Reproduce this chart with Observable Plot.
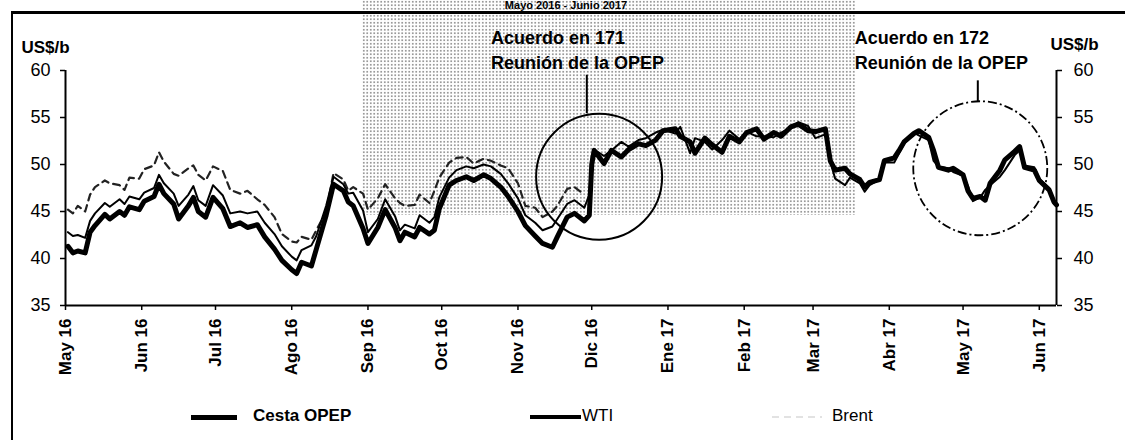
<!DOCTYPE html>
<html>
<head>
<meta charset="utf-8">
<script src="https://cdn.jsdelivr.net/npm/d3@7"></script>
<script src="https://cdn.jsdelivr.net/npm/@observablehq/plot@0.6"></script>
<style>
html, body { margin: 0; padding: 0; background: #fff; }
#wrap { position: relative; width: 1125px; height: 440px; overflow: hidden; font-family: "Liberation Sans", Arial, sans-serif; color: #000; background: #fff; }
#halftone { position: absolute; left: 362px; top: 0; width: 493px; height: 215px;
  background-image: radial-gradient(circle, #9a9a9a 0.7px, transparent 1.1px); background-size: 3.5px 3.5px; }
#frame { position: absolute; left: 11px; top: 11px; width: 1200px; height: 500px; border-left: 2px solid #000; border-top: 3px solid #000; }
#title { position: absolute; left: 0; width: 1132px; top: 0px; height: 11px; line-height: 11px; text-align: center; font-weight: bold; font-size: 11px; }
#chart { position: absolute; left: 0; top: 0; }
#legend .lab { position: absolute; top: 405px; font-size: 17px; line-height: 22px; white-space: nowrap; }
#legend .sw { position: absolute; }
svg [aria-label="x-axis tick label"] text { font-weight: bold; }
</style>
</head>
<body>
<div id="wrap">
  <div id="halftone"></div>
  <div id="title">Mayo 2016 - Junio 2017</div>
  <div id="frame"></div>
  <div id="chart"></div>
  <div id="legend"></div>
</div>
<script>
// ---- data ----
const dates = [
  "2016-05-02","2016-05-04","2016-05-06","2016-05-09","2016-05-11","2016-05-13","2016-05-17","2016-05-19","2016-05-23","2016-05-25",
  "2016-05-27","2016-05-31","2016-06-02","2016-06-06","2016-06-08","2016-06-10","2016-06-14","2016-06-16","2016-06-20","2016-06-22",
  "2016-06-24","2016-06-27","2016-06-30","2016-07-04","2016-07-07","2016-07-11","2016-07-14","2016-07-18","2016-07-21","2016-07-25",
  "2016-07-28","2016-08-01","2016-08-03","2016-08-05","2016-08-09","2016-08-11","2016-08-15","2016-08-18","2016-08-22","2016-08-24",
  "2016-08-26","2016-08-30","2016-09-01","2016-09-05","2016-09-08","2016-09-12","2016-09-14","2016-09-16","2016-09-20","2016-09-22",
  "2016-09-26","2016-09-28","2016-09-30","2016-10-04","2016-10-07","2016-10-11","2016-10-14","2016-10-18","2016-10-21","2016-10-25",
  "2016-10-28","2016-11-01","2016-11-04","2016-11-08","2016-11-11","2016-11-15","2016-11-17","2016-11-21","2016-11-24","2016-11-28",
  "2016-11-30","2016-12-01","2016-12-02","2016-12-06","2016-12-09","2016-12-13","2016-12-16","2016-12-20","2016-12-23","2016-12-27",
  "2016-12-30","2017-01-04","2017-01-06","2017-01-10","2017-01-12","2017-01-16","2017-01-19","2017-01-23","2017-01-26","2017-01-30",
  "2017-02-02","2017-02-06","2017-02-09","2017-02-13","2017-02-16","2017-02-20","2017-02-23","2017-02-27","2017-03-02","2017-03-06",
  "2017-03-08","2017-03-10","2017-03-14","2017-03-16","2017-03-20","2017-03-22","2017-03-24","2017-03-28","2017-03-30","2017-04-03",
  "2017-04-05","2017-04-07","2017-04-11","2017-04-13","2017-04-17","2017-04-19","2017-04-21","2017-04-25","2017-04-27","2017-05-01",
  "2017-05-03","2017-05-05","2017-05-08","2017-05-10","2017-05-12","2017-05-16","2017-05-18","2017-05-22","2017-05-24","2017-05-26",
  "2017-05-30","2017-06-01","2017-06-05","2017-06-07","2017-06-08"
];
const cestaOpep = [
  41.3,40.6,40.8,40.6,42.8,43.5,44.7,44.2,45.0,44.6,
  45.5,45.2,46.1,46.6,47.9,46.9,45.8,44.2,45.6,46.5,
  45.0,44.4,46.5,45.3,43.4,43.8,43.3,43.6,42.3,41.0,
  39.8,38.8,38.4,39.6,39.2,41.0,44.6,47.9,47.2,46.0,
  45.6,43.2,41.6,43.3,45.2,43.3,41.9,42.8,42.3,43.3,
  42.6,43.0,45.3,47.8,48.3,48.7,48.3,48.9,48.5,47.6,
  46.6,45.0,43.5,42.4,41.6,41.2,42.3,44.4,44.8,44.0,
  44.6,50.0,51.5,50.1,51.5,50.8,51.6,52.2,52.0,52.6,
  53.6,53.8,53.0,52.4,51.2,52.8,52.1,51.3,53.0,52.4,
  53.4,53.8,52.7,53.4,53.0,54.0,54.3,53.6,53.5,53.8,
  50.4,49.4,49.6,49.0,48.4,47.6,48.1,48.4,50.4,50.7,
  51.5,52.4,53.3,53.6,52.9,51.5,49.7,49.4,49.6,48.9,
  47.2,46.4,46.6,46.2,48.0,49.4,50.5,51.4,51.9,49.7,
  49.4,48.3,47.3,46.0,45.7
];
const wti = [
  42.8,42.4,42.5,42.2,44.0,44.8,45.9,45.5,46.3,45.8,
  46.6,46.3,47.0,47.5,48.9,48.0,46.9,45.6,46.8,47.7,
  46.2,45.6,47.8,46.7,44.8,45.0,44.8,45.0,43.8,42.6,
  41.3,40.2,39.8,40.9,41.4,42.4,45.6,48.7,47.9,46.9,
  47.0,45.1,42.8,44.2,46.3,44.5,43.0,43.6,43.2,44.6,
  43.8,44.4,46.5,48.6,49.4,49.8,49.6,50.0,49.8,49.0,
  48.0,46.4,44.6,43.8,43.0,43.4,44.2,45.8,46.2,45.4,
  46.8,50.9,51.6,50.9,51.5,52.4,51.9,52.6,52.8,53.4,
  53.7,53.3,54.0,51.2,52.8,52.4,51.6,52.6,53.6,52.7,
  53.5,53.0,53.0,52.9,53.4,53.9,54.5,54.1,52.8,53.2,
  50.3,48.5,47.8,48.6,48.0,47.1,47.8,48.4,50.2,50.2,
  51.2,52.2,53.4,53.1,52.6,50.4,49.8,49.6,49.2,48.8,
  47.7,46.1,46.5,47.3,47.8,48.7,49.4,51.0,51.5,49.9,
  49.7,48.5,47.5,45.8,45.6
];
// Brent: only the stretch that can be read in the reference (May - Nov 2016)
const brent = [
  45.2,44.8,45.6,45.0,46.8,47.6,48.3,48.0,47.8,47.3,
  48.6,48.5,49.5,49.9,51.3,50.3,49.0,48.8,49.6,49.9,
  48.9,48.3,49.8,49.3,47.3,46.9,47.2,46.3,45.7,44.4,
  42.6,41.8,41.7,42.3,42.0,43.0,45.0,49.1,48.4,47.2,
  47.6,46.9,45.2,46.4,47.9,46.4,45.9,45.6,45.7,46.8,
  45.9,47.2,48.6,50.2,50.7,50.8,50.1,50.6,50.4,49.9,
  49.6,48.0,45.6,45.4,44.4,45.0,45.6,47.4,47.6,46.8
];
const seriesNames = ["Cesta OPEP", "WTI", "Brent"];

const xDomain = ["2016-05-01", "2017-06-08"];
const yTicks = [35, 40, 45, 50, 55, 60];
const monthTicks = ["2016-05-01","2016-06-01","2016-07-01","2016-08-01","2016-09-01","2016-10-01","2016-11-01",
  "2016-12-01","2017-01-01","2017-02-01","2017-03-01","2017-04-01","2017-05-01","2017-06-01"];
const monthLabels = ["May 16","Jun 16","Jul 16","Ago 16","Sep 16","Oct 16","Nov 16",
  "Dic 16","Ene 17","Feb 17","Mar 17","Abr 17","May 17","Jun 17"];
const unitLabel = "US$/b";

// annotations
const noteDates = ["2016-10-21", "2017-03-18"];
const noteLine1 = ["Acuerdo en 171", "Acuerdo en 172"];
const noteLine2 = ["Reunión de la OPEP", "Reunión de la OPEP"];
const noteY1 = 63.4, noteY2 = 60.75;
const circleDates = ["2016-12-04", "2017-05-08"];
const circleValues = [48.7, 49.6];
const leaderDates = ["2016-11-29", "2017-05-07"];
const leaderTop = [59.5, 58.9];
const leaderBottom = [55.4, 56.7];

// ---- build ----
const P = d3.utcParse("%Y-%m-%d");
const rows = dates.map((d, i) => ({date: P(d), opec: cestaOpep[i], wti: wti[i], brent: brent[i]}));
const brentRows = rows.filter(r => r.brent != null);
const tickDates = monthTicks.map(P);
const tickMap = new Map(tickDates.map((d, i) => [+d, monthLabels[i]]));
const dom = xDomain.map(P);
const notes1 = noteDates.map((d, i) => ({date: P(d), text: noteLine1[i], v: noteY1}));
const notes2 = noteDates.map((d, i) => ({date: P(d), text: noteLine2[i], v: noteY2}));
const circles = circleDates.map((d, i) => ({date: P(d), v: circleValues[i]}));
const leaders = leaderDates.map((d, i) => ({date: P(d), y1: leaderTop[i], y2: leaderBottom[i]}));

const chart = Plot.plot({
  width: 1125,
  height: 395,
  marginLeft: 65,
  marginRight: 69,
  marginTop: 70,
  marginBottom: 90,
  style: {background: "transparent", fontFamily: "'Liberation Sans', Arial, sans-serif", color: "#000", overflow: "visible"},
  x: {type: "utc", domain: dom},
  y: {domain: [35, 60]},
  marks: [
    Plot.line(brentRows, {x: "date", y: "brent", stroke: "#222", strokeWidth: 2.2, strokeDasharray: "7,5"}),
    Plot.line(rows, {x: "date", y: "wti", stroke: "#000", strokeWidth: 2}),
    Plot.line(rows, {x: "date", y: "opec", stroke: "#000", strokeWidth: 5}),
    Plot.ruleY([35], {stroke: "#000", strokeWidth: 2}),
    Plot.ruleX(dom, {stroke: "#000", strokeWidth: 2}),
    Plot.axisY({anchor: "left", ticks: yTicks, tickSize: 5, tickPadding: 10, fontSize: 18, label: null, strokeWidth: 1.5}),
    Plot.axisY({anchor: "right", ticks: yTicks, tickSize: 5, tickPadding: 12, fontSize: 18, label: null, strokeWidth: 1.5}),
    Plot.axisX({ticks: tickDates, tickFormat: d => tickMap.get(+d), tickRotate: -90, tickSize: 5, tickPadding: 8, fontSize: 17, label: null, strokeWidth: 1.5}),
    Plot.dot(circles.slice(0, 1), {x: "date", y: "v", r: 63, fill: "none", stroke: "#000", strokeWidth: 2}),
    Plot.dot(circles.slice(1, 2), {x: "date", y: "v", r: 67, fill: "none", stroke: "#000", strokeWidth: 1.8, strokeDasharray: "9,3,2,3"}),
    Plot.ruleX(leaders, {x: "date", y1: "y1", y2: "y2", stroke: "#000", strokeWidth: 2}),
    Plot.text(notes1, {x: "date", y: "v", text: "text", textAnchor: "start", fontSize: 18, fontWeight: "bold"}),
    Plot.text(notes2, {x: "date", y: "v", text: "text", textAnchor: "start", fontSize: 18, fontWeight: "bold"}),
    Plot.text([unitLabel], {frameAnchor: "top-left", text: d => d, textAnchor: "start", dx: -44, dy: -30, fontSize: 17, fontWeight: "bold"}),
    Plot.text([unitLabel], {frameAnchor: "top-right", text: d => d, textAnchor: "start", dx: -6, dy: -33, fontSize: 17, fontWeight: "bold"})
  ]
});
document.getElementById("chart").appendChild(chart);

// ---- legend ----
const legendSpec = [
  {name: seriesNames[0], swX: 191, swW: 46, swH: 5, color: "#000", dash: false, textX: 253, bold: true},
  {name: seriesNames[1], swX: 530, swW: 51, swH: 4, color: "#000", dash: false, textX: 582, bold: false},
  {name: seriesNames[2], swX: 772, swW: 50, swH: 2, color: "#e2e2e2", dash: true, textX: 832, bold: false}
];
const leg = document.getElementById("legend");
legendSpec.forEach(s => {
  const sw = document.createElement("div");
  sw.className = "sw";
  sw.style.left = s.swX + "px";
  sw.style.width = s.swW + "px";
  sw.style.top = (417 - s.swH / 2) + "px";
  sw.style.height = s.swH + "px";
  sw.style.background = s.dash ? `repeating-linear-gradient(90deg, ${s.color} 0 7px, transparent 7px 12px)` : s.color;
  leg.appendChild(sw);
  const t = document.createElement("div");
  t.className = "lab";
  t.style.left = s.textX + "px";
  t.style.fontWeight = s.bold ? "bold" : "normal";
  t.textContent = s.name;
  leg.appendChild(t);
});
</script>
</body>
</html>
